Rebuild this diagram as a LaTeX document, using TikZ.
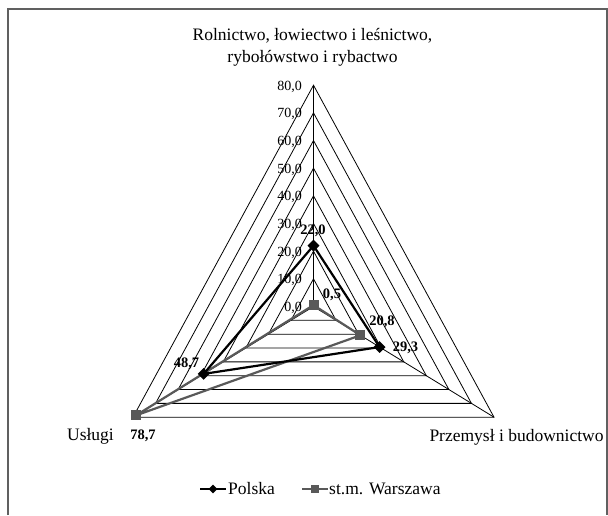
\documentclass[tikz,border=0pt]{standalone}
\usepackage{fontspec}
\setmainfont{Liberation Serif}
\usetikzlibrary{calc, shapes.geometric}

\definecolor{wagray}{HTML}{595959}
\definecolor{framegray}{HTML}{606060}

\begin{document}
\begin{tikzpicture}[
    x=1pt, y=-1pt,
    font=\fontsize{17.5}{21.5}\selectfont,
    web/.style={draw=black, line width=0.8pt},
    frame/.style={draw=framegray, line width=1.6pt},
    plline/.style={draw=black, line width=2.2pt, line join=round},
    waline/.style={draw=wagray, line width=2.2pt, line join=round},
    plmark/.style={diamond, fill=black, inner sep=0pt, minimum size=12pt},
    wamark/.style={rectangle, fill=wagray, inner sep=0pt, minimum size=10pt},
    tick/.style={font=\fontsize{14}{16}\selectfont, anchor=east, inner sep=0pt},
    val/.style={font=\fontsize{14.5}{16}\selectfont\bfseries, inner sep=0pt},
    axlabel/.style={align=center, inner sep=0pt},
]

\useasboundingbox (0,0) rectangle (608,515);

% ── outer frame ──────────────────────────────────────────────────────────────
\draw[frame] (8,515) -- (8,9) -- (607,9) -- (607,515);

% ── radar axes ───────────────────────────────────────────────────────────────
\coordinate (c)  at (313.5,306.5);
\coordinate (ra) at (313.5,85.2);   % rolnictwo
\coordinate (rb) at (494,417.2);    % przemysl
\coordinate (rc) at (133,417.2);    % uslugi

\foreach \v in {1,...,8}
    \draw[web] ($(c)!\v/8!(ra)$) -- ($(c)!\v/8!(rb)$) -- ($(c)!\v/8!(rc)$) -- cycle;
\draw[web] (c) -- (ra);
\draw[web] (c) -- (rb);
\draw[web] (c) -- (rc);

\foreach \v in {0,...,8} {
    \pgfmathtruncatemacro\num{10*\v}
    \node[tick] (tick\v) at ($(c)!\v/8!(ra)+(-11.5,1.5)$) {\num,0};
}

% ── axis labels ──────────────────────────────────────────────────────────────
\node[axlabel] (rol) at (312.5,47.5) {Rolnictwo, łowiectwo i leśnictwo,\\rybołówstwo i rybactwo};
\node[axlabel] (prz) at (516.5,437) {Przemysł i budownictwo};
\node[axlabel] (usl) at (90.5,436) {Usługi};

% ── series: st.m. Warszawa and Polska ────────────────────────────────────────
\coordinate (pl-a) at ($(c)!22.0/80!(ra)$);
\coordinate (pl-b) at ($(c)!29.3/80!(rb)$);
\coordinate (pl-c) at ($(c)!48.7/80!(rc)$);
\coordinate (wa-a) at ($(c)!0.5/80!(ra)$);
\coordinate (wa-b) at ($(c)!20.8/80!(rb)$);
\coordinate (wa-c) at ($(c)!78.7/80!(rc)$);

\draw[waline] (wa-a) -- (wa-b) -- (wa-c) -- cycle;
\draw[plline] (pl-a) -- (pl-b) -- (pl-c) -- cycle;

\foreach \p in {a,b,c} {
    \node[wamark] (wam-\p) at (wa-\p) {};
    \node[plmark] (plm-\p) at (pl-\p) {};
}

% ── value labels ─────────────────────────────────────────────────────────────
\node[val] (v-pl-a) at (313,231) {22,0};
\node[val] (v-pl-b) at (405.5,348) {29,3};
\node[val] (v-pl-c) at (186.5,363.5) {48,7};
\node[val] (v-wa-a) at (332,295) {0,5};
\node[val] (v-wa-b) at (382,321.5) {20,8};
\node[val] (v-wa-c) at (143,435.5) {78,7};

% ── legend ───────────────────────────────────────────────────────────────────
\coordinate (lg-pl-l) at (200,489);
\coordinate (lg-pl-r) at (226,489);
\draw[plline, line width=2pt] (lg-pl-l) -- (lg-pl-r);
\node[plmark, minimum size=9pt] (lg-pl-m) at ($(lg-pl-l)!0.5!(lg-pl-r)$) {};
\node[anchor=west, inner sep=0pt] (lg-pl) at ([xshift=2pt]lg-pl-r) {Polska};

\coordinate (lg-wa-l) at (302,489);
\coordinate (lg-wa-r) at (328,489);
\draw[waline, line width=2pt] (lg-wa-l) -- (lg-wa-r);
\node[wamark, minimum size=8pt] (lg-wa-m) at ($(lg-wa-l)!0.5!(lg-wa-r)$) {};
\node[anchor=west, inner sep=0pt] (lg-wa) at ([xshift=1pt]lg-wa-r) {st.m. Warszawa};

\end{tikzpicture}
\end{document}
